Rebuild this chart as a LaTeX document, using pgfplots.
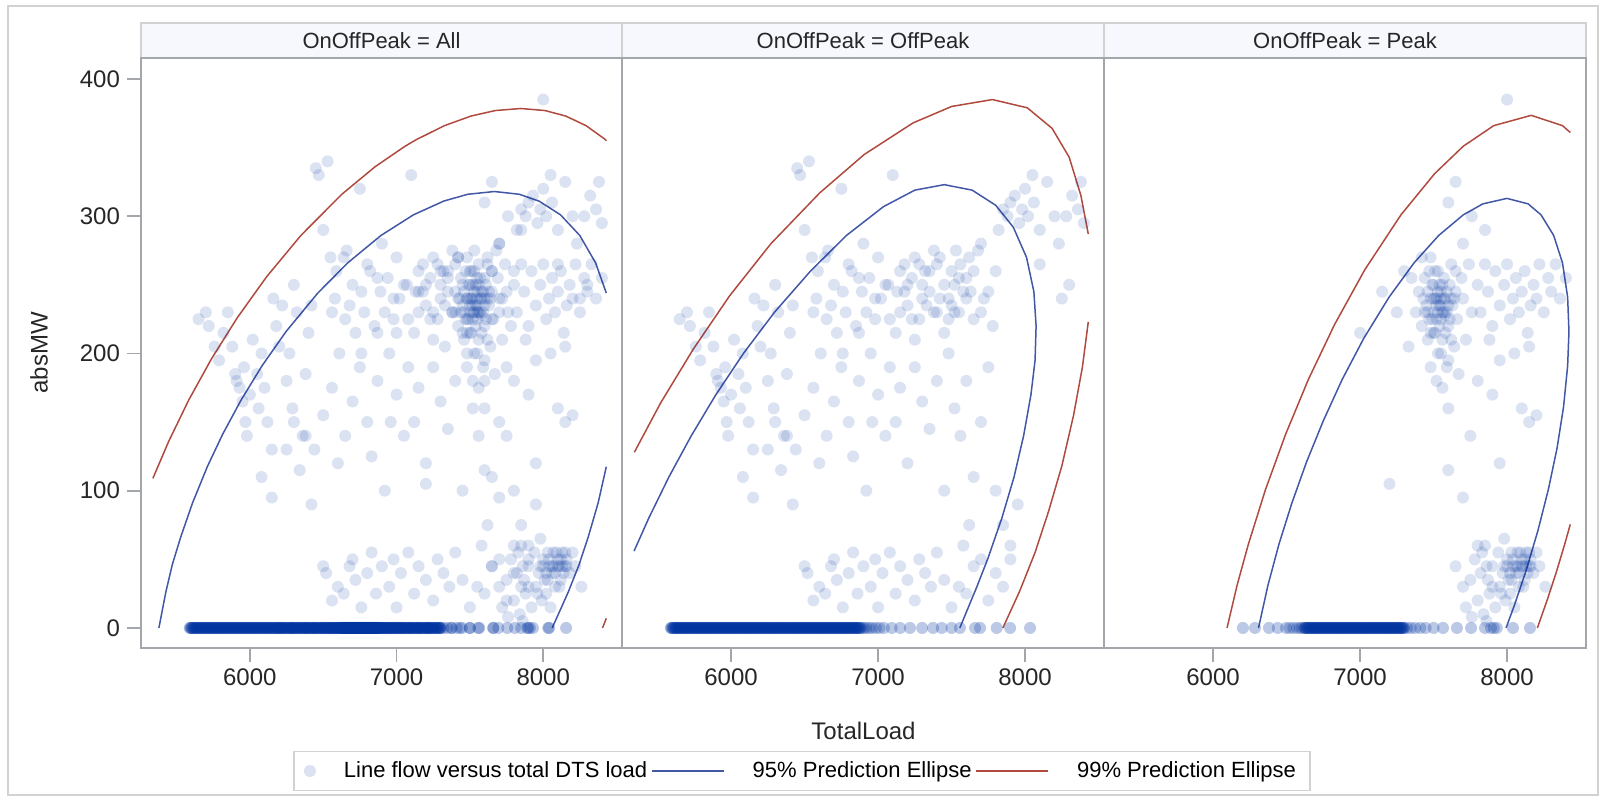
\documentclass[border=0pt]{standalone}
\usepackage{fontspec}
\setmainfont{Liberation Sans}
\usepackage{pgfplots}
\usepackage{pgfplotstable}
\pgfplotsset{compat=1.18}

\definecolor{ptblue}{HTML}{0033A0}
\definecolor{ellblue}{HTML}{4257A5}
\definecolor{ellred}{HTML}{B04A3F}
\definecolor{framegray}{HTML}{A3A7AB}
\definecolor{hdrfill}{HTML}{F6F8FD}
\definecolor{hdrline}{HTML}{D2D2D2}

% zero-flow hours, off peak
\pgfplotstableread[row sep=\\]{x y\\
5590 0\\5595 0\\
5600 0\\5605 0\\5610 0\\5615 0\\5620 0\\5625 0\\5630 0\\5635 0\\5640 0\\5645 0\\5650 0\\5655 0\\5660 0\\5665 0\\5670 0\\5675 0\\5680 0\\5685 0\\5690 0\\5695 0\\
5700 0\\5705 0\\5710 0\\5715 0\\5720 0\\5725 0\\5730 0\\5735 0\\5740 0\\5745 0\\5750 0\\5755 0\\5760 0\\5765 0\\5770 0\\5775 0\\5780 0\\5785 0\\5790 0\\5795 0\\
5800 0\\5805 0\\5810 0\\5815 0\\5820 0\\5825 0\\5830 0\\5835 0\\5840 0\\5845 0\\5850 0\\5855 0\\5860 0\\5865 0\\5870 0\\5875 0\\5880 0\\5885 0\\5890 0\\5895 0\\
5900 0\\5905 0\\5910 0\\5915 0\\5920 0\\5925 0\\5930 0\\5935 0\\5940 0\\5945 0\\5950 0\\5955 0\\5960 0\\5965 0\\5970 0\\5975 0\\5980 0\\5985 0\\5990 0\\5995 0\\
6000 0\\6005 0\\6010 0\\6015 0\\6020 0\\6025 0\\6030 0\\6035 0\\6040 0\\6045 0\\6050 0\\6055 0\\6060 0\\6065 0\\6070 0\\6075 0\\6080 0\\6085 0\\6090 0\\6095 0\\
6100 0\\6105 0\\6110 0\\6115 0\\6120 0\\6125 0\\6130 0\\6135 0\\6140 0\\6145 0\\6150 0\\6155 0\\6160 0\\6165 0\\6170 0\\6175 0\\6180 0\\6185 0\\6190 0\\6195 0\\
6200 0\\6205 0\\6210 0\\6215 0\\6220 0\\6225 0\\6230 0\\6235 0\\6240 0\\6245 0\\6250 0\\6255 0\\6260 0\\6265 0\\6270 0\\6275 0\\6280 0\\6285 0\\6290 0\\6295 0\\
6300 0\\6305 0\\6310 0\\6315 0\\6320 0\\6325 0\\6330 0\\6335 0\\6340 0\\6345 0\\6350 0\\6355 0\\6360 0\\6365 0\\6370 0\\6375 0\\6380 0\\6385 0\\6390 0\\6395 0\\
6400 0\\6405 0\\6410 0\\6415 0\\6420 0\\6425 0\\6430 0\\6435 0\\6440 0\\6445 0\\6450 0\\6455 0\\6460 0\\6465 0\\6470 0\\6475 0\\6480 0\\6485 0\\6490 0\\6495 0\\
6500 0\\6505 0\\6510 0\\6515 0\\6520 0\\6525 0\\6530 0\\6535 0\\6540 0\\6545 0\\6550 0\\6555 0\\6560 0\\6565 0\\6570 0\\6575 0\\6580 0\\6585 0\\6590 0\\6595 0\\
6600 0\\6605 0\\6610 0\\6615 0\\6620 0\\6625 0\\6630 0\\6635 0\\6640 0\\6645 0\\6650 0\\6655 0\\6660 0\\6665 0\\6670 0\\6675 0\\6680 0\\6685 0\\6690 0\\6695 0\\
6700 0\\6705 0\\6710 0\\6715 0\\6720 0\\6725 0\\6730 0\\6735 0\\6740 0\\6745 0\\6750 0\\6755 0\\6760 0\\6765 0\\6770 0\\6775 0\\6780 0\\6785 0\\6790 0\\6795 0\\
6800 0\\6805 0\\6810 0\\6815 0\\6820 0\\6825 0\\6830 0\\6835 0\\6840 0\\6845 0\\6850 0\\6855 0\\6860 0\\6865 0\\6870 0\\6875 0\\6880 0\\
6890 0\\6905 0\\6920 0\\6940 0\\6960 0\\6985 0\\7010 0\\7040 0\\7093 0\\7150 0\\7217 0\\7300 0\\7374 0\\7433 0\\7500 0\\7557 0\\7660 0\\7694 0\\7807 0\\7898 0\\8034 0\\
}\offzero

% off peak, non-zero flow
\pgfplotstableread[row sep=\\]{x y\\
5650 225\\5700 230\\5720 220\\5760 205\\5790 195\\5820 215\\5850 230\\5880 205\\5900 185\\5910 180\\
5930 175\\5950 165\\5960 190\\5970 150\\5980 140\\6000 170\\6020 210\\6050 185\\6060 160\\6080 200\\
6100 175\\6120 150\\6150 130\\6160 240\\6180 220\\6200 205\\6220 235\\6250 180\\6270 200\\6290 160\\
6300 250\\6320 230\\6340 115\\6360 140\\6380 185\\6400 215\\6420 235\\6440 130\\6450 335\\6470 330\\
6500 290\\6530 340\\6550 270\\6560 230\\6580 240\\6610 200\\6640 270\\6660 275\\6680 235\\6700 250\\
6720 215\\6750 320\\6760 200\\6780 230\\6800 265\\6820 260\\6850 220\\6870 215\\6890 245\\6900 280\\
6920 230\\6940 255\\6950 200\\6980 225\\7000 270\\7020 240\\7050 250\\7080 225\\7100 330\\7120 215\\
7150 260\\7180 245\\7200 235\\7230 255\\7250 210\\7280 265\\7300 250\\7320 260\\7350 245\\7380 230\\
7400 265\\7420 270\\7450 215\\7480 240\\7500 235\\7520 250\\7550 230\\7580 245\\7600 255\\7620 270\\
7650 225\\7680 275\\7700 280\\7720 240\\7750 245\\7780 220\\7800 260\\7820 290\\7850 305\\7880 300\\
7900 310\\7930 315\\7960 295\\8000 320\\8020 300\\8060 310\\8100 290\\8150 325\\8200 300\\8230 280\\
8280 300\\8320 315\\8360 305\\8400 295\\8250 240\\8300 250\\8100 265\\8380 325\\8050 330\\7980 305\\
7150 230\\7200 250\\7250 270\\7300 240\\7350 260\\7400 230\\7450 250\\7500 260\\7550 255\\7600 240\\
7650 260\\7700 230\\7180 265\\7280 225\\7380 275\\7480 225\\7530 275\\7630 245\\7070 250\\6980 240\\
6870 255\\6760 245\\6650 225\\6590 260\\7420 240\\7520 230\\7330 235\\7230 225\\7130 245\\7560 265\\
6080 110\\6150 95\\6250 130\\6300 150\\6380 140\\6420 90\\6500 155\\6560 175\\6600 120\\6650 140\\
6700 165\\6750 190\\6800 150\\6830 125\\6870 180\\6920 100\\6960 150\\7000 170\\7050 140\\7080 190\\
7120 150\\7150 175\\7200 120\\7250 190\\7300 165\\7350 145\\7400 180\\7450 100\\7480 200\\7520 160\\
7560 140\\7600 180\\7650 110\\7700 150\\7750 190\\7800 100\\7850 75\\7900 60\\7950 90\\7580 60\\7620 75\\
6500 45\\6520 40\\6560 20\\6600 30\\6640 25\\6680 45\\6700 50\\6720 35\\6760 15\\6800 40\\
6830 55\\6860 25\\6900 45\\6950 30\\6980 50\\7000 15\\7030 40\\7080 55\\7120 25\\7150 45\\
7200 35\\7250 20\\7280 50\\7320 40\\7360 30\\7400 55\\7450 35\\7500 15\\7550 30\\7600 25\\
7650 45\\7700 50\\7750 20\\7800 40\\7850 30\\7900 50\\
}\offnz

% zero-flow hours, peak
\pgfplotstableread[row sep=\\]{x y\\
6203 0\\6285 0\\6380 0\\6440 0\\6496 0\\6520 0\\6545 0\\6570 0\\6590 0\\6605 0\\
6620 0\\6625 0\\6630 0\\6635 0\\6640 0\\6645 0\\6650 0\\6655 0\\6660 0\\6665 0\\6670 0\\6675 0\\6680 0\\6685 0\\6690 0\\6695 0\\
6700 0\\6705 0\\6710 0\\6715 0\\6720 0\\6725 0\\6730 0\\6735 0\\6740 0\\6745 0\\6750 0\\6755 0\\6760 0\\6765 0\\6770 0\\6775 0\\6780 0\\6785 0\\6790 0\\6795 0\\
6800 0\\6805 0\\6810 0\\6815 0\\6820 0\\6825 0\\6830 0\\6835 0\\6840 0\\6845 0\\6850 0\\6855 0\\6860 0\\6865 0\\6870 0\\6875 0\\6880 0\\6885 0\\6890 0\\6895 0\\
6900 0\\6905 0\\6910 0\\6915 0\\6920 0\\6925 0\\6930 0\\6935 0\\6940 0\\6945 0\\6950 0\\6955 0\\6960 0\\6965 0\\6970 0\\6975 0\\6980 0\\6985 0\\6990 0\\6995 0\\
7000 0\\7005 0\\7010 0\\7015 0\\7020 0\\7025 0\\7030 0\\7035 0\\7040 0\\7045 0\\7050 0\\7055 0\\7060 0\\7065 0\\7070 0\\7075 0\\7080 0\\7085 0\\7090 0\\7095 0\\
7100 0\\7105 0\\7110 0\\7115 0\\7120 0\\7125 0\\7130 0\\7135 0\\7140 0\\7145 0\\7150 0\\7155 0\\7160 0\\7165 0\\7170 0\\7175 0\\7180 0\\7185 0\\7190 0\\7195 0\\
7200 0\\7205 0\\7210 0\\7215 0\\7220 0\\7225 0\\7230 0\\7235 0\\7240 0\\7245 0\\7250 0\\7255 0\\7260 0\\7265 0\\7270 0\\7275 0\\7280 0\\7285 0\\7290 0\\7295 0\\7300 0\\
7320 0\\7345 0\\7375 0\\7410 0\\7446 0\\7500 0\\7564 0\\7659 0\\7755 0\\7850 0\\7890 0\\7909 0\\7930 0\\8040 0\\8156 0\\
}\peakzero

% peak, non-zero flow
\pgfplotstableread[row sep=\\]{x y\\
7380 230\\7400 245\\7420 220\\7440 255\\7450 235\\7460 210\\7470 260\\7480 240\\7490 225\\7500 250\\
7500 230\\7510 215\\7520 240\\7530 260\\7530 200\\7540 235\\7550 245\\7550 225\\7560 210\\7570 255\\
7580 240\\7590 230\\7600 220\\7600 195\\7610 250\\7620 265\\7630 235\\7640 205\\7650 245\\7660 225\\
7670 185\\7690 255\\7700 240\\7720 210\\7740 265\\7760 230\\7420 270\\7480 190\\7520 180\\7560 175\\
7600 160\\7350 255\\7330 205\\
7440 230\\7460 245\\7470 225\\7490 250\\7500 215\\7510 240\\7520 225\\7530 245\\7540 220\\7550 235\\
7560 250\\7570 230\\7580 215\\7590 245\\7600 235\\7610 225\\7620 240\\7530 230\\7550 240\\7540 250\\
7520 235\\7560 230\\7570 240\\7500 240\\7580 228\\7620 210\\7640 240\\7460 230\\7480 215\\7510 260\\
7550 200\\7590 190\\7480 270\\7430 240\\7650 260\\
7800 250\\7820 230\\7850 265\\7870 245\\7900 220\\7920 260\\7950 235\\7980 250\\8000 265\\8020 225\\
8040 240\\8060 255\\8080 230\\8100 245\\8120 260\\8140 215\\8160 235\\8180 250\\8200 240\\8220 265\\
8250 230\\8280 255\\8300 245\\8330 265\\8360 240\\8400 255\\8050 200\\8150 205\\7950 195\\7880 210\\
7000 215\\7150 245\\7300 260\\7600 310\\7650 325\\7760 300\\8000 385\\7250 230\\7700 280\\7850 290\\
8100 160\\8150 150\\8200 155\\7800 180\\7900 170\\7750 140\\7950 120\\7600 115\\7200 105\\7700 95\\7800 60\\
7650 45\\7700 30\\7720 15\\7750 35\\7780 50\\7800 20\\7820 40\\7840 10\\7850 60\\7870 35\\
7880 25\\7900 45\\7920 15\\7940 55\\7950 30\\7970 40\\7980 65\\8000 50\\8010 35\\8020 25\\
8030 55\\8040 45\\8060 40\\8070 55\\8080 30\\8100 50\\8110 45\\8120 35\\8130 55\\8150 45\\
8160 50\\8180 40\\8200 55\\8220 45\\7990 20\\8050 15\\7860 5\\7760 8\\8260 30\\
8000 45\\8020 40\\8040 50\\8060 45\\8080 40\\8100 45\\8120 50\\8140 40\\8160 45\\8030 35\\
8090 55\\8150 55\\8110 30\\8070 45\\8130 45\\7980 45\\7960 25\\7900 30\\7860 45\\7830 55\\
}\peaknz

\pgfplotsset{
  panel/.style={
    scale only axis, anchor=south west, width=241pt, height=295pt,
    xmin=5258, xmax=8537, ymin=-14.6, ymax=415.3,
    xtick={6000,7000,8000}, ytick={0,100,200,300,400},
    tick align=outside, major tick length=7pt,
    xtick pos=bottom, ytick pos=left,
    axis line style={draw=framegray, line width=1.2pt},
    tick style={draw=framegray, line width=0.8pt},
    ticklabel style={font=\fontsize{12}{14}\selectfont, text=black!85},
    /pgf/number format/assume math mode=true,
    /pgf/number format/1000 sep={},
  },
  pts/.style={only marks, mark=*, mark size=3pt,
    mark options={draw=ptblue, draw opacity=0, fill=ptblue, fill opacity=0.14}},
  e95/.style={ellblue, line width=0.75pt, no markers,
    legend image code/.code={\draw[##1] (0pt,0pt) -- (36pt,0pt);}},
  e99/.style={ellred, line width=0.75pt, no markers,
    legend image code/.code={\draw[##1] (0pt,0pt) -- (36pt,0pt);}},
}

\begin{document}
\begin{tikzpicture}
\useasboundingbox (0,0) rectangle (803pt,400.5pt);
\draw[hdrline, line width=0.8pt] (4pt,3pt) rectangle (799pt,397.5pt);

% panel headers
\foreach \xa/\xb/\lab in {70.5/311/All, 311/552/OffPeak, 552/793/Peak}{
  \draw[fill=hdrfill, draw=hdrline, line width=0.9pt] (\xa pt,371.5pt) rectangle (\xb pt,389pt);
  \node[font=\fontsize{11}{13}\selectfont, text=black!85] at ({(\xa+\xb)/2*1pt},380.25pt) {OnOffPeak = \lab};
}

% OnOffPeak = All
\begin{axis}[panel, at={(70.5pt,76.5pt)}, width=240.5pt]
% zero readings recur many times over, so each row stands for two hours
\addplot[pts] table {\offzero};
\addplot[pts] table {\offzero};
\addplot[pts] table {\peakzero};
\addplot[pts] table {\peakzero};
\addplot[pts] table {\offnz};
\addplot[pts] table {\peaknz};
\addplot[e95] coordinates {(5380,0)(5427,26)(5471,46)(5528,66)(5609,91)(5710,117.5)(5814,141)(5940,166)(6083,191)(6247,216)(6463,244)(6667,266)(6894,286)(7115,301)(7321,311)(7485,316)(7667,318)(7837,316)(7972,311)(8118,301)(8249,286)(8357,266)(8430,244)};
\addplot[e95] coordinates {(8061,0)(8170,26)(8244,46)(8306,66)(8374,91)(8430,117.5)};
\addplot[e99] coordinates {(5339,109)(5447,136)(5583,166)(5738,196)(5914,226)(6115,256)(6348,286)(6627,316)(6853,336)(7058,351)(7138,356)(7327,366)(7508,373)(7673,377)(7847,378.5)(8012,377)(8153,373)(8292,366)(8422,356)(8430,355)};
\addplot[e99] coordinates {(8404,0)(8430,7)};
\end{axis}

% OnOffPeak = OffPeak
\begin{axis}[panel, at={(311pt,76.5pt)}, ytick=\empty,
  legend style={at={(0.3734,-0.2085)}, anchor=center, draw=hdrline, line width=0.8pt,
    font=\fontsize{11}{13}\selectfont, legend columns=3, inner xsep=5pt, inner ysep=3pt,
    /tikz/every odd column/.append style={column sep=12pt}},
  legend cell align=left]
\addplot[pts, forget plot] table {\offzero};
\addplot[pts, forget plot] table {\offzero};
\addplot[pts] table {\offnz};
\addlegendentry{Line flow versus total DTS load}
\addplot[e95] coordinates {(5340,56)(5440,80)(5577,110)(5729,140)(5897,170)(6084,200)(6295,230)(6540,260)(6785,286)(7037,307)(7250,319)(7450,323)(7640,319)(7800,308)(7920,292)(8010,270)(8060,245)(8075,220)(8068,195)(8040,170)(7990,140)(7925,110)(7842,80)(7745,50)(7672,30)(7556,0)};
\addlegendentry{95\% Prediction Ellipse}
\addplot[e99] coordinates {(5342,128)(5521,164)(5742,203)(5990,242)(6271,280)(6603,317)(6906,345)(7238,368)(7501,380)(7778,385)(8015,379)(8184,364)(8300,343)(8380,315)(8430,287)};
\addlegendentry{99\% Prediction Ellipse}
\addplot[e99, forget plot] coordinates {(8430,223)(8390,190)(8330,155)(8250,118)(8160,85)(8068,55)(7964,27)(7849,0)};
\end{axis}

% OnOffPeak = Peak
\begin{axis}[panel, at={(552pt,76.5pt)}, ytick=\empty]
\addplot[pts] table {\peakzero};
\addplot[pts] table {\peakzero};
\addplot[pts] table {\peaknz};
\addplot[e95] coordinates {(6309,0)(6373,31)(6448,61)(6536,91)(6636,121)(6750,151)(6878,181)(7025,211)(7197,241)(7367,266)(7535,286)(7702,301)(7835,309)(7999,313)(8143,309)(8231,301)(8317,286)(8377,266)(8412,241)(8421,216)(8412,191)(8384,161)(8340,131)(8281,101)(8210,71)(8127,41)(8048,16)(7993,0)};
\addplot[e99] coordinates {(6095,0)(6163,31)(6240,61)(6357,101)(6493,141)(6648,181)(6826,221)(7032,261)(7278,301)(7507,331)(7702,351)(7909,366)(8164,373.5)(8377,366)(8430,361)};
\addplot[e99] coordinates {(8430,75.5)(8392,61)(8336,41)(8275,21)(8206,0)};
\end{axis}

\node[rotate=90, font=\fontsize{12}{14}\selectfont, text=black!85] at (19.5pt,224pt) {absMW};
\node[font=\fontsize{12}{14}\selectfont, text=black!85] at (431.75pt,35pt) {TotalLoad};
\end{tikzpicture}
\end{document}
